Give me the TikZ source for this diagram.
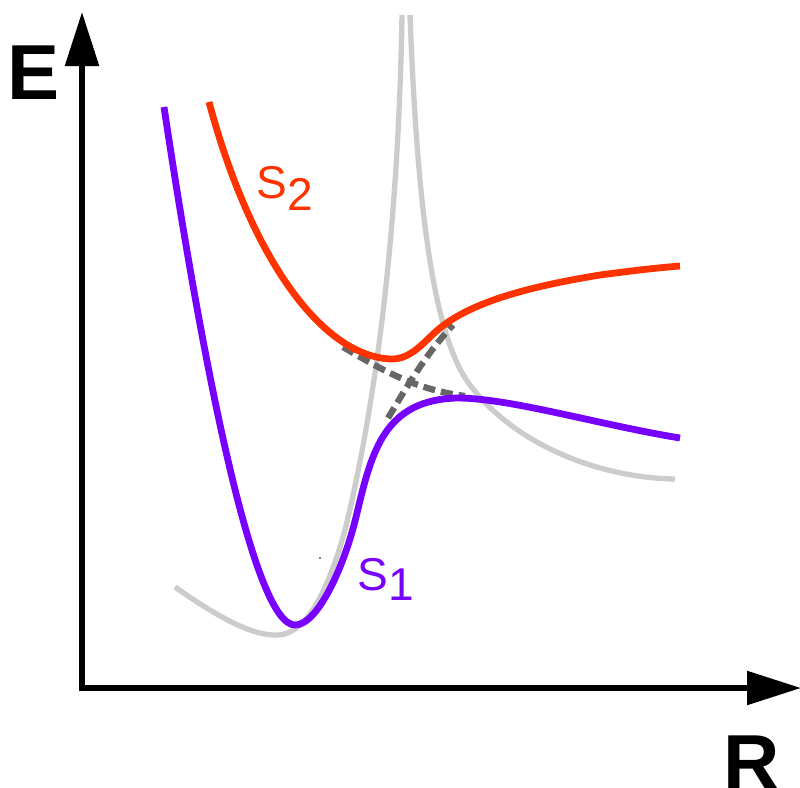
\documentclass[tikz,border=0pt]{standalone}
\usepackage{fontspec}
\setmainfont{Liberation Sans}
\usetikzlibrary{arrows.meta}
\definecolor{sred}{RGB}{255,51,0}
\definecolor{spurple}{RGB}{119,0,255}
\definecolor{lgray}{RGB}{204,204,204}
\definecolor{dgray}{RGB}{102,102,102}
\tikzset{
  axis/.style={line width=5.5pt, -{Triangle[length=54pt,width=33pt]}},
  curve/.style={line width=6.8pt},
  gcurve/.style={line width=5.3pt, color=lgray},
  dcurve/.style={line width=6.3pt, color=dgray, dash pattern=on 12pt off 6pt},
  axlabel/.style={font=\fontsize{78}{78}\selectfont\bfseries, inner sep=0pt, anchor=base west},
  slabel/.style={font=\fontsize{46}{46}\selectfont, inner sep=0pt, anchor=base west},
}
\begin{document}
\begin{tikzpicture}[x=1pt,y=-1pt]
\useasboundingbox (0,0) rectangle (800,787);
\clip (0,0) rectangle (800,787);
% gray curves
\draw[gcurve] (175,587) .. controls (225,622) and (255,636) .. (278,635)
  .. controls (305,634) and (327,595) .. (345,530)
  .. controls (372,420) and (398,250) .. (402,15);
\draw[gcurve] (410,15) .. controls (417,200) and (432,335) .. (470,385)
  .. controls (515,445) and (600,478) .. (675,479);
% dashed diabatic
\draw[dcurve] (343,347) .. controls (390,375) and (420,390) .. (465,396);
\draw[dcurve] (388,418) .. controls (405,390) and (425,355) .. (453,325);
% S1
\draw[curve, spurple] (164,107) .. controls (205,380) and (255,625) .. (295,625)
  .. controls (318,625) and (345,565) .. (357,513)
  .. controls (372,450) and (385,400) .. (457,398)
  .. controls (510,398) and (600,425) .. (680,438);
% S2
\draw[curve, sred] (209,102) .. controls (250,255) and (320,355) .. (390,359)
  .. controls (412,360) and (425,340) .. (440,328)
  .. controls (470,304) and (520,288) .. (600,275)
  .. controls (630,271) and (655,268) .. (680,266);
% stray dot
\fill[black] (320,558) circle (0.8pt);
% axes
\coordinate (O) at (82,688);
\coordinate (Etip) at (82,12);
\coordinate (Rtip) at (801,688);
\draw[axis] (82,690.75) -- (Etip);
\draw[axis] (79.25,688) -- (Rtip);
% labels
\node[axlabel] (E) at (7,99) {E};
\node[axlabel] (R) at (723,789) {R};
\node[slabel, text=sred] (S2) at (256,198) {S};
\node[slabel, text=sred, anchor=base west] (S2n) at (S2.base east) [yshift=-12pt] {2};
\node[slabel, text=spurple] (S1) at (357,590) {S};
\node[slabel, text=spurple, anchor=base west] (S1n) at (S1.base east) [yshift=-10pt] {1};
\end{tikzpicture}
\end{document}
